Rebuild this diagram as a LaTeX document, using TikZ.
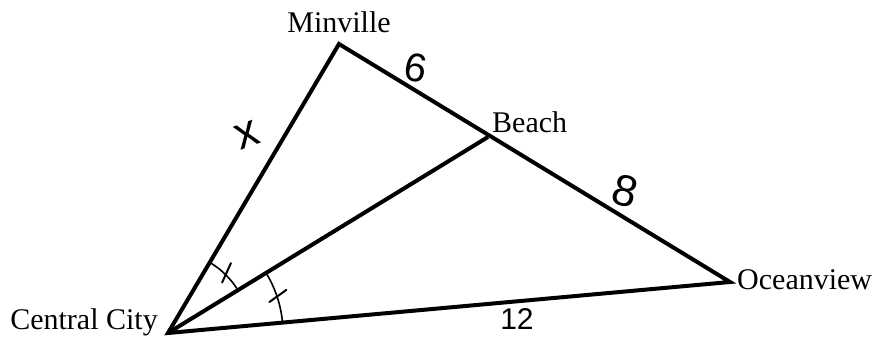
\documentclass[tikz,border=0pt]{standalone}
\usepackage{fontspec}
\setmainfont{Liberation Serif}
\newfontfamily\handfont{Liberation Sans}
\usetikzlibrary{angles,calc,positioning}
\definecolor{MapInk}{HTML}{000000}

\begin{document}
\begin{tikzpicture}[x=1pt,y=1pt,
  road/.style={line width=4pt,MapInk,line join=miter},
  town/.style={font=\fontsize{30}{34}\selectfont,inner sep=0pt},
  hand/.style={font=\handfont\fontsize{40}{44}\selectfont,inner sep=0pt,MapInk},
  anglearc/.style={draw,line width=1.6pt,MapInk},
  tickmark/.style={line width=2pt,MapInk,line cap=round}]
  \useasboundingbox (0,0) rectangle (887,337);
  \coordinate (ccity) at (168,4);
  \coordinate (minville) at (339,293);
  \coordinate (beach) at (488,200);
  \coordinate (oceanview) at (730,55);
  \draw[road] (ccity)--(minville)--(oceanview)--cycle;
  \draw[road] (ccity)--(beach);
  \node[town,above=11pt of minville,anchor=base] (minvilleLbl) {Minville};
  \node[town,above right=4pt and 4pt of beach,anchor=base west] (beachLbl) {Beach};
  \node[town,below right=8pt and 7pt of oceanview,anchor=base west] (oceanviewLbl) {Oceanview};
  \node[town,above left=3pt and 10pt of ccity,anchor=base east] (ccityLbl) {Central City};
  \pic[anglearc,angle radius=82pt] {angle=beach--ccity--minville};
  \pic[anglearc,angle radius=115pt] {angle=oceanview--ccity--beach};
  \draw[tickmark] ($(ccity)+(43:74)$)--($(ccity)+(48:94)$);
  \draw[tickmark] ($(ccity)+(17:106)$)--($(ccity)+(20:126)$);
  \node[hand,font=\handfont\fontsize{46}{50}\selectfont,rotate=20] (sidex) at (247,202) {x};
  \node[hand,rotate=-10] (side6) at (416,269) {6};
  \node[hand,font=\handfont\fontsize{44}{48}\selectfont,rotate=-15] (side8) at (625,146) {8};
  \node[hand,font=\handfont\fontsize{30}{34}\selectfont] (side12) at (517,18) {12};
\end{tikzpicture}
\end{document}
